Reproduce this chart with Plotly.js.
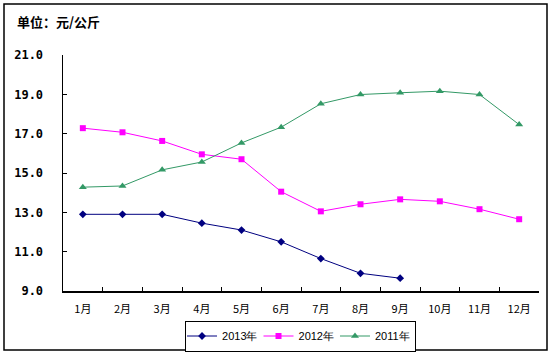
<!DOCTYPE html>
<html>
<head>
<meta charset="utf-8">
<script src="https://cdn.plot.ly/plotly-3.0.1.min.js"></script>
<style>
html,body{margin:0;padding:0;background:#fff;}
#chart{width:553px;height:355px;}
</style>
</head>
<body>
<div id="chart"></div>
<script>
const months = ["1月","2月","3月","4月","5月","6月","7月","8月","9月","10月","11月","12月"];
const y2013 = [12.9, 12.9, 12.9, 12.45, 12.1, 11.5, 10.65, 9.9, 9.65];
const y2012 = [17.28, 17.07, 16.63, 15.95, 15.70, 14.05, 13.05, 13.41, 13.66, 13.56, 13.16, 12.65];
const y2011 = [14.28, 14.34, 15.16, 15.56, 16.53, 17.33, 18.52, 18.99, 19.08, 19.16, 18.99, 17.46];
const yTicks = [9, 11, 13, 15, 17, 19, 21];
const unitLabel = "单位：元/公斤";

const traces = [
  {name:"2013年", x: months.slice(0, y2013.length), y: y2013, type:"scatter", mode:"lines+markers",
   line:{color:"#000080", width:1}, marker:{symbol:"diamond", size:6, color:"#000080"}},
  {name:"2012年", x: months, y: y2012, type:"scatter", mode:"lines+markers",
   line:{color:"#FF00FF", width:1}, marker:{symbol:"square", size:6, color:"#FF00FF"}},
  {name:"2011年", x: months, y: y2011, type:"scatter", mode:"lines+markers",
   line:{color:"#339966", width:1}, marker:{symbol:"triangle-up", size:7, color:"#339966"}}
];

const layout = {
  width:553, height:355,
  margin:{l:63, r:14, t:55, b:64, autoexpand:false},
  paper_bgcolor:"#fff", plot_bgcolor:"#fff",
  showlegend:true,
  font:{family:"'Noto Sans CJK SC', 'DejaVu Sans', sans-serif", color:"#000", size:11},
  xaxis:{
    type:"category", categoryorder:"array", categoryarray: months,
    range:[-0.5, 11.5], tickson:"boundaries",
    ticks:"inside", ticklen:4, tickcolor:"#000", tickwidth:1,
    showline:true, linecolor:"#000", linewidth:1.5, showgrid:false, zeroline:false,
    tickfont:{family:"'Noto Sans CJK SC', sans-serif", size:11, color:"#000"},
    ticklabelstandoff:7, fixedrange:true, automargin:false
  },
  yaxis:{
    range:[9, 21], tickvals: yTicks, tickformat:".1f",
    ticks:"inside", ticklen:4, tickcolor:"#000", tickwidth:1,
    showline:true, linecolor:"#000", linewidth:1.5, showgrid:false, zeroline:false,
    tickfont:{family:"'DejaVu Sans Mono', monospace", size:12, color:"#000", weight:"bold"},
    ticklabelstandoff:16, fixedrange:true, automargin:false
  },
  legend:{
    orientation:"h", x:0.499, xanchor:"center", y:(291-336)/236, yanchor:"middle",
    bordercolor:"#000", borderwidth:1, bgcolor:"#fff",
    font:{family:"'Liberation Sans', Arial, sans-serif", size:11, color:"#000"},
    itemwidth:30, tracegroupgap:0, indentation:-4
  },
  annotations:[{
    text: unitLabel, xref:"paper", yref:"paper",
    x:(15-63)/476, y:(291-22)/236, xanchor:"left", yanchor:"middle", showarrow:false,
    font:{family:"'Noto Sans CJK SC', sans-serif", size:13, color:"#000", weight:"bold"}
  }],
  shapes:[{
    type:"rect", xref:"paper", yref:"paper",
    x0:(4-63)/476, x1:(547-63)/476, y0:(291-350)/236, y1:(291-4)/236,
    line:{color:"#000", width:1.5}, fillcolor:"rgba(0,0,0,0)", layer:"above"
  }]
};

Plotly.newPlot("chart", traces, layout, {displayModeBar:false, staticPlot:true});
</script>
</body>
</html>
